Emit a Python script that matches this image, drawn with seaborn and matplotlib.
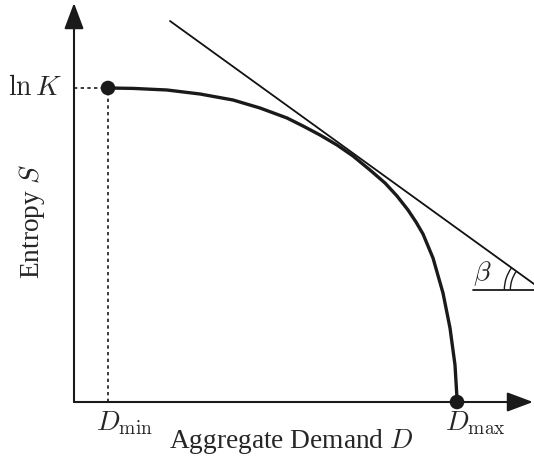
import numpy as np
import pandas as pd
import matplotlib
matplotlib.use("Agg")
import matplotlib.pyplot as plt
from matplotlib.patches import Arc
import seaborn as sns

# ---- data (abstract units) ----
curve_D = [0.85, 1.475, 2.325, 3.15, 3.975, 4.65, 5.325, 5.725, 6.15, 6.575, 6.975,
           7.4, 7.775, 8.075, 8.35, 8.55, 8.725, 8.975, 9.225, 9.4, 9.525, 9.57, 9.575]
curve_S = [7.85, 7.84, 7.8, 7.7, 7.55, 7.35, 7.1, 6.9, 6.675, 6.425, 6.15,
           5.8, 5.475, 5.15, 4.8, 4.5, 4.2, 3.6, 2.725, 1.85, 0.925, 0.175, 0.0]
D_min, D_max = 0.85, 9.575
lnK = 7.85
tangent_D = [2.4, 11.75]
tangent_S = [9.525, 2.77]
beta_S = 2.8

sns.set_theme(style="white")
plt.rcParams['font.family'] = ['Liberation Serif', 'DejaVu Serif']
plt.rcParams['mathtext.fontset'] = 'cm'

fig = plt.figure(figsize=(5.34, 4.59), dpi=100)
ax = fig.add_axes([0, 0, 1, 1])
ax.set_xlim(-1.85, 11.5)
ax.set_ylim(-1.425, 10.05)
ax.axis('off')

# axes arrows
arrow = dict(arrowstyle='-|>,head_length=0.8,head_width=0.3', lw=1.5, color='k',
             shrinkA=0, shrinkB=0, mutation_scale=20)
ax.annotate('', xy=(0, 9.975), xytext=(0, 0), arrowprops=arrow)
ax.annotate('', xy=(11.475, 0), xytext=(0, 0), arrowprops=arrow)

# dotted guides
ax.plot([0, D_min], [lnK, lnK], color='k', lw=1.2, ls=(0, (2, 2)))
ax.plot([D_min, D_min], [0, lnK], color='k', lw=1.2, ls=(0, (2, 2)))

# tangent
sns.lineplot(x=tangent_D, y=tangent_S, ax=ax, color='#111111', lw=1.3, sort=False)

# curve
df = pd.DataFrame({'D': curve_D, 'S': curve_S})
sns.lineplot(data=df, x='D', y='S', ax=ax, color='#1a1a1a', lw=2.4, sort=False,
             solid_joinstyle='round', solid_capstyle='round')

# endpoints
sns.scatterplot(x=[D_min, D_max], y=[lnK, 0], ax=ax, color='k', s=110,
                edgecolor='none', zorder=5)

# beta angle
slope = (tangent_S[0] - tangent_S[1]) / (tangent_D[1] - tangent_D[0])
x_int = tangent_D[0] + (tangent_S[0] - beta_S) / slope
ax.plot([9.975, 11.6], [beta_S, beta_S], color='k', lw=1.3)
ang = np.degrees(np.arctan(slope))
for r in (0.8, 0.95):
    ax.add_patch(Arc((x_int, beta_S), 2 * r, 2 * r, theta1=180 - ang, theta2=180,
                     color='k', lw=1.0))
ax.text(10.2, 3.22, r'$\beta$', fontsize=20, ha='center', va='center')

# labels
ax.text(-0.3, lnK, r'$\ln K$', fontsize=20, ha='right', va='center')
ax.text(1.25, -0.53, r'$D_{\min}$', fontsize=20, ha='center', va='center')
ax.text(10.025, -0.53, r'$D_{\max}$', fontsize=20, ha='center', va='center')
ax.text(5.425, -0.99, r'Aggregate Demand $D$', fontsize=19.7, ha='center', va='center')
ax.text(-1.05, 4.5, r'Entropy $S$', fontsize=19.7, ha='center', va='center', rotation=90)

fig.savefig('out.png', dpi=100)
